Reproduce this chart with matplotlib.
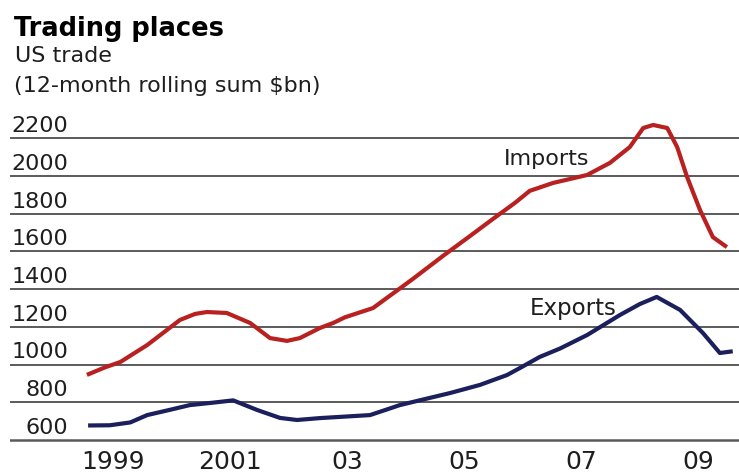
import matplotlib
matplotlib.use("Agg")
import matplotlib.pyplot as plt
from matplotlib import transforms

# US trade, 12-month rolling sum, $bn (time in fractional years)
imports_t = [1999.05, 1999.36, 1999.62, 2000.08, 2000.35, 2000.64, 2000.90, 2001.10,
             2001.44, 2001.84, 2002.18, 2002.47, 2002.69, 2003.03, 2003.26, 2003.46,
             2003.94, 2004.40, 2004.62, 2005.14, 2005.60, 2005.99, 2006.37, 2006.62,
             2007.02, 2007.60, 2007.99, 2008.33, 2008.56, 2008.73, 2008.97, 2009.14,
             2009.31, 2009.53, 2009.75, 2009.99]
imports_bn = [945, 985, 1013, 1103, 1167, 1236, 1268, 1278,
              1273, 1220, 1140, 1125, 1140, 1193, 1220, 1250,
              1299, 1403, 1453, 1576, 1681, 1771, 1857, 1920,
              1962, 2004, 2068, 2152, 2253, 2269, 2253, 2152,
              1993, 1819, 1675, 1622]

exports_t = [1999.07, 1999.44, 1999.79, 2000.08, 2000.47, 2000.81, 2001.21, 2001.55,
             2001.96, 2002.35, 2002.64, 2003.03, 2003.46, 2003.89, 2004.40, 2005.26,
             2005.77, 2006.23, 2006.45, 2006.79, 2007.14, 2007.60, 2008.16, 2008.50,
             2008.79, 2009.19, 2009.58, 2009.87, 2010.09]
exports_bn = [677, 678, 693, 732, 760, 785, 798, 810,
              759, 717, 706, 716, 724, 732, 785, 849,
              892, 944, 981, 1040, 1085, 1156, 1262, 1320,
              1358, 1289, 1167, 1061, 1070]

y_ticks = [600, 800, 1000, 1200, 1400, 1600, 1800, 2000, 2200]
x_tick_pos = [1999.5, 2001.5, 2003.5, 2005.5, 2007.5, 2009.5]
x_tick_labels = ["1999", "2001", "03", "05", "07", "09"]

title = "Trading places"
subtitle = ["US trade", "(12-month rolling sum $bn)"]

RED = "#b8211f"
NAVY = "#1b1f5c"
GRID = "#5a5a5a"
TEXT = "#1e1e1e"

plt.rcParams["font.family"] = ["DejaVu Sans"]

W, H = 739, 476
fig = plt.figure(figsize=(W / 100, H / 100), dpi=100)
fig.patch.set_facecolor("white")

# 200 $bn per 37.75 px; the 600 rule sits at y = 440 px
px_per_unit = 37.75 / 200
y_lo, y_hi = 585, 2300
ax_bottom_px = 440 + (600 - y_lo) * px_per_unit
ax_top_px = 440 - (y_hi - 600) * px_per_unit
ax = fig.add_axes([10 / W, (H - ax_bottom_px) / H, 729 / W, (ax_bottom_px - ax_top_px) / H])
ax.set_xlim(1997.735, 2010.197)
ax.set_ylim(y_lo, y_hi)

for side in ["top", "right", "left", "bottom"]:
    ax.spines[side].set_visible(False)

# horizontal rules at each tick value
for v in y_ticks:
    ax.axhline(v, color=GRID, lw=1.4 if v > 600 else 1.8, zorder=1)

ax.set_yticks([])
ax.set_xticks(x_tick_pos)
ax.set_xticklabels(x_tick_labels, fontsize=18, color=TEXT)
ax.tick_params(axis="x", length=0, pad=5)

# value labels sit just above their rule, right-aligned
lab_trans = transforms.offset_copy(ax.get_yaxis_transform(), fig=fig, x=0, y=6, units="dots")
for v in y_ticks:
    ax.text((68 - 10) / 729, v, str(v), transform=lab_trans, ha="right", va="baseline",
            fontsize=16, color=TEXT)

ax.plot(imports_t, imports_bn, color=RED, lw=3.0, solid_joinstyle="round",
        solid_capstyle="butt", zorder=3)
ax.plot(exports_t, exports_bn, color=NAVY, lw=3.0, solid_joinstyle="round",
        solid_capstyle="butt", zorder=3)

ax.text(2006.90, 2057, "Imports", ha="center", va="baseline", fontsize=16, color=TEXT)
ax.text(2007.36, 1262, "Exports", ha="center", va="baseline", fontsize=16.5, color=TEXT)

fig.text(14 / W, 1 - 36 / H, title, fontsize=18.5, fontweight="bold", color="black",
         ha="left", va="baseline")
fig.text(15 / W, 1 - 62 / H, subtitle[0], fontsize=16, color=TEXT, ha="left", va="baseline")
fig.text(14 / W, 1 - 92 / H, subtitle[1], fontsize=16, color=TEXT, ha="left", va="baseline")

fig.savefig("out.png", dpi=100, facecolor="white")
